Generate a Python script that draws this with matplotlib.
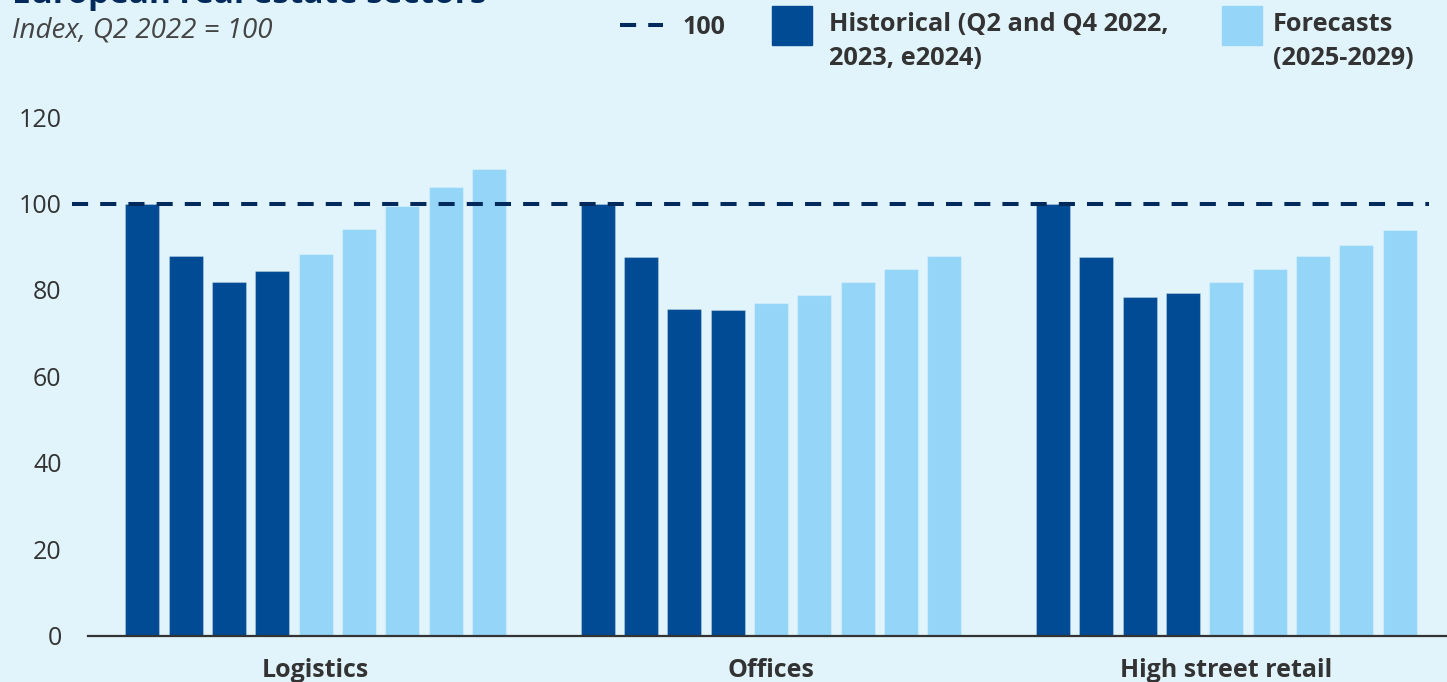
import numpy as np
import matplotlib
matplotlib.use("Agg")
import matplotlib.pyplot as plt
from matplotlib.lines import Line2D
from matplotlib.patches import Rectangle

# data
sectors = ["Logistics", "Offices", "High street retail"]
periods = ["Q2 2022", "Q4 2022", "2023", "e2024", "2025", "2026", "2027", "2028", "2029"]
n_hist = 4
logistics = [100, 87.9, 81.9, 84.4, 88.3, 94.0, 99.4, 103.9, 108.1]
offices = [100, 87.7, 75.6, 75.4, 76.9, 78.8, 81.9, 84.9, 87.9]
retail = [99.8, 87.7, 78.4, 79.3, 81.9, 84.8, 87.9, 90.3, 93.9]
values = [logistics, offices, retail]
baseline = 100

BG = "#E1F4FC"
DARK = "#004B93"
LIGHT = "#95D6F8"
NAVY = "#002A5C"
TXT = "#333333"

plt.rcParams["font.family"] = ["Open Sans", "DejaVu Sans"]

fig = plt.figure(figsize=(14.47, 6.82), dpi=100, facecolor=BG)
ax = fig.add_axes([88 / 1447, 46.5 / 682, 1 - 88 / 1447, 518.4 / 682])
ax.set_facecolor(BG)

step = 0.0951
width = 0.0746
for g, vals in enumerate(values):
    for i, v in enumerate(vals):
        x = g + (i - 4) * step
        col = DARK if i < n_hist else LIGHT
        ax.bar(x, v, width=width, color=col, edgecolor=(1, 1, 1, 0.25), linewidth=0.8, zorder=2)

ax.axhline(baseline, xmin=-0.0118, xmax=0.987, color=NAVY, lw=2.9,
           dashes=(4, 3), clip_on=False, zorder=3)

ax.set_xlim(-0.5, 2.4846)
ax.set_ylim(0, 120)
ax.set_yticks(np.arange(0, 121, 20))
ax.set_xticks(range(len(sectors)))
ax.set_xticklabels(sectors, fontweight="bold")
ax.tick_params(axis="y", length=0, pad=19, labelsize=18, labelcolor=TXT)
ax.tick_params(axis="x", length=0, pad=16, labelsize=18, labelcolor=TXT)
for s in ["top", "right", "left"]:
    ax.spines[s].set_visible(False)
ax.spines["bottom"].set_color(TXT)
ax.spines["bottom"].set_linewidth(1.6)
ax.spines["bottom"].set_zorder(4)

# title (cut off at top, as in the original) and subtitle
fig.text(12 / 1447, 1 - 3 / 682, "European real estate sectors", fontsize=24,
         fontweight="bold", color=NAVY, va="baseline", ha="left")
fig.text(12 / 1447, 1 - 30 / 682, "Index, Q2 2022 = 100", fontsize=20,
         style="italic", color="#444444", va="center", ha="left")

# legend
H = 682.0
W = 1447.0
fig.add_artist(Line2D([620 / W, 663 / W], [1 - 25 / H] * 2, color=NAVY, lw=2.9,
                      dashes=(4, 3)))
fig.text(683 / W, 1 - 27 / H, "100", fontsize=18, fontweight="bold", color=TXT, va="center")
fig.add_artist(Rectangle((772 / W, 1 - 45 / H), 40 / W, 39 / H, color=DARK,
                         transform=fig.transFigure))
fig.text(829 / W, 1 - 12 / H, "Historical (Q2 and Q4 2022,\n2023, e2024)", fontsize=18.3,
         fontweight="bold", color=TXT, va="top", linespacing=1.45)
fig.add_artist(Rectangle((1222 / W, 1 - 45 / H), 40 / W, 39 / H, color=LIGHT,
                         transform=fig.transFigure))
fig.text(1273 / W, 1 - 12 / H, "Forecasts\n(2025-2029)", fontsize=18.3,
         fontweight="bold", color=TXT, va="top", linespacing=1.45)

fig.savefig("out.png", dpi=100, facecolor=BG)
